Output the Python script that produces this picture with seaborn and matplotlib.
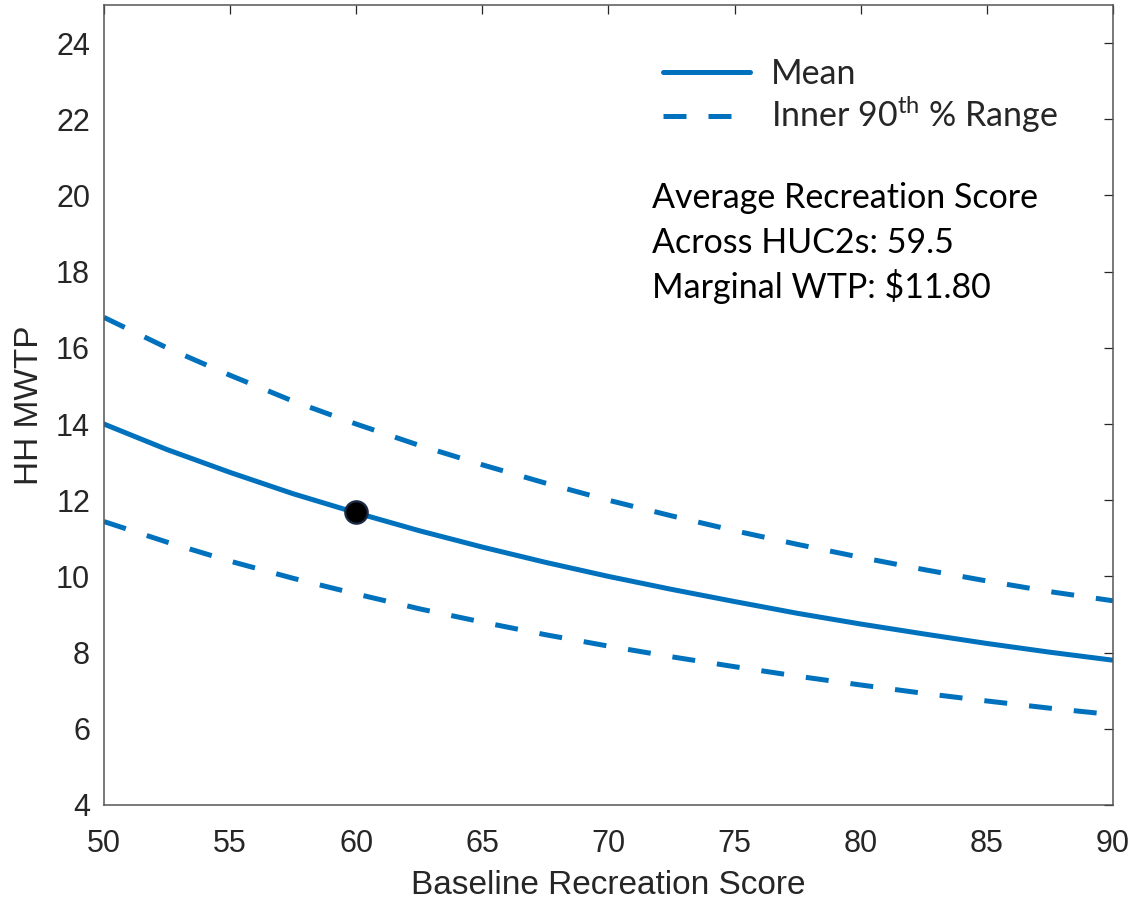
import numpy as np
import pandas as pd
import matplotlib
matplotlib.use("Agg")
import matplotlib.pyplot as plt
import seaborn as sns
from matplotlib.lines import Line2D

# values
score = [50, 52.5, 55, 57.5, 60, 62.5, 65, 67.5, 70, 72.5, 75, 77.5, 80, 82.5, 85, 87.5, 90]
mwtp_mean = [14.0, 13.33, 12.73, 12.17, 11.67, 11.2, 10.77, 10.37, 10.0,
             9.66, 9.34, 9.03, 8.75, 8.49, 8.24, 8.01, 7.8]
mwtp_upper = [16.8, 16.0, 15.28, 14.6, 14.0, 13.44, 12.93, 12.45, 12.0,
              11.59, 11.2, 10.84, 10.5, 10.18, 9.88, 9.6, 9.36]
mwtp_lower = [11.44, 10.9, 10.4, 9.95, 9.54, 9.15, 8.8, 8.47, 8.17,
              7.89, 7.63, 7.38, 7.15, 6.93, 6.73, 6.54, 6.37]
avg_score = [60.0]
avg_mwtp = [11.7]

blue = "#0072BD"
tick_col = "#262626"

sns.set_style("white")
plt.rcParams["font.family"] = ["Liberation Sans", "DejaVu Sans"]
plt.rcParams["mathtext.fontset"] = "custom"
plt.rcParams["mathtext.rm"] = "Lato"

fig = plt.figure(figsize=(11.35, 9.0), dpi=100)
ax = fig.add_axes([0.0916, 0.1056, 0.8890, 0.8888])

df = pd.DataFrame({"score": score, "mean": mwtp_mean,
                   "upper": mwtp_upper, "lower": mwtp_lower})

sns.lineplot(data=df, x="score", y="upper", ax=ax, color=blue, linewidth=3.6)
sns.lineplot(data=df, x="score", y="lower", ax=ax, color=blue, linewidth=3.6)
sns.lineplot(data=df, x="score", y="mean", ax=ax, color=blue, linewidth=3.6)
for ln in ax.lines[:2]:
    ln.set_dashes((4.6, 4.4))
    ln.set_dash_capstyle("butt")

sns.scatterplot(x=avg_score, y=avg_mwtp, ax=ax, color="black", s=260,
                edgecolor="#1c2b44", linewidth=1.6, zorder=5)

ax.set_xlim(50, 90)
ax.set_ylim(4, 25)
ax.set_xticks(np.arange(50, 91, 5))
ax.set_yticks(np.arange(4, 25, 2))
ax.tick_params(direction="in", length=6.5, width=0.9, colors=tick_col,
               labelsize=22, top=True, right=True)
ax.tick_params(axis="y", pad=10)
ax.tick_params(axis="x", pad=17)
for sp in ax.spines.values():
    sp.set_visible(True)
    sp.set_color("#555555")
    sp.set_linewidth(1.1)

ax.set_xlabel("Baseline Recreation Score", fontsize=24, color=tick_col, labelpad=8)
ax.set_ylabel("HH MWTP", fontsize=24, color=tick_col, labelpad=8)

handles = [Line2D([], [], color=blue, linewidth=3.6),
           Line2D([], [], color=blue, linewidth=3.6, dashes=(4.6, 4.4))]
leg = ax.legend(handles, ["Mean", "Inner 90$^{\\mathrm{th}}$ % Range"],
                loc="upper left", bbox_to_anchor=(0.554, 0.934), frameon=False,
                prop={"family": "Lato", "size": 24.5}, handlelength=2.56,
                handletextpad=0.62, labelspacing=0.12, borderpad=0,
                borderaxespad=0)

note = ["Average Recreation Score", "Across HUC2s: 59.5", "Marginal WTP: $11.80"]
for i, line in enumerate(note):
    ax.text(0.543, 0.746 - i * 0.05625, line.replace("$", "\\$"),
            transform=ax.transAxes, family="Lato", fontsize=24.5,
            color="black", va="baseline", ha="left")

fig.savefig("out.png", dpi=100)
